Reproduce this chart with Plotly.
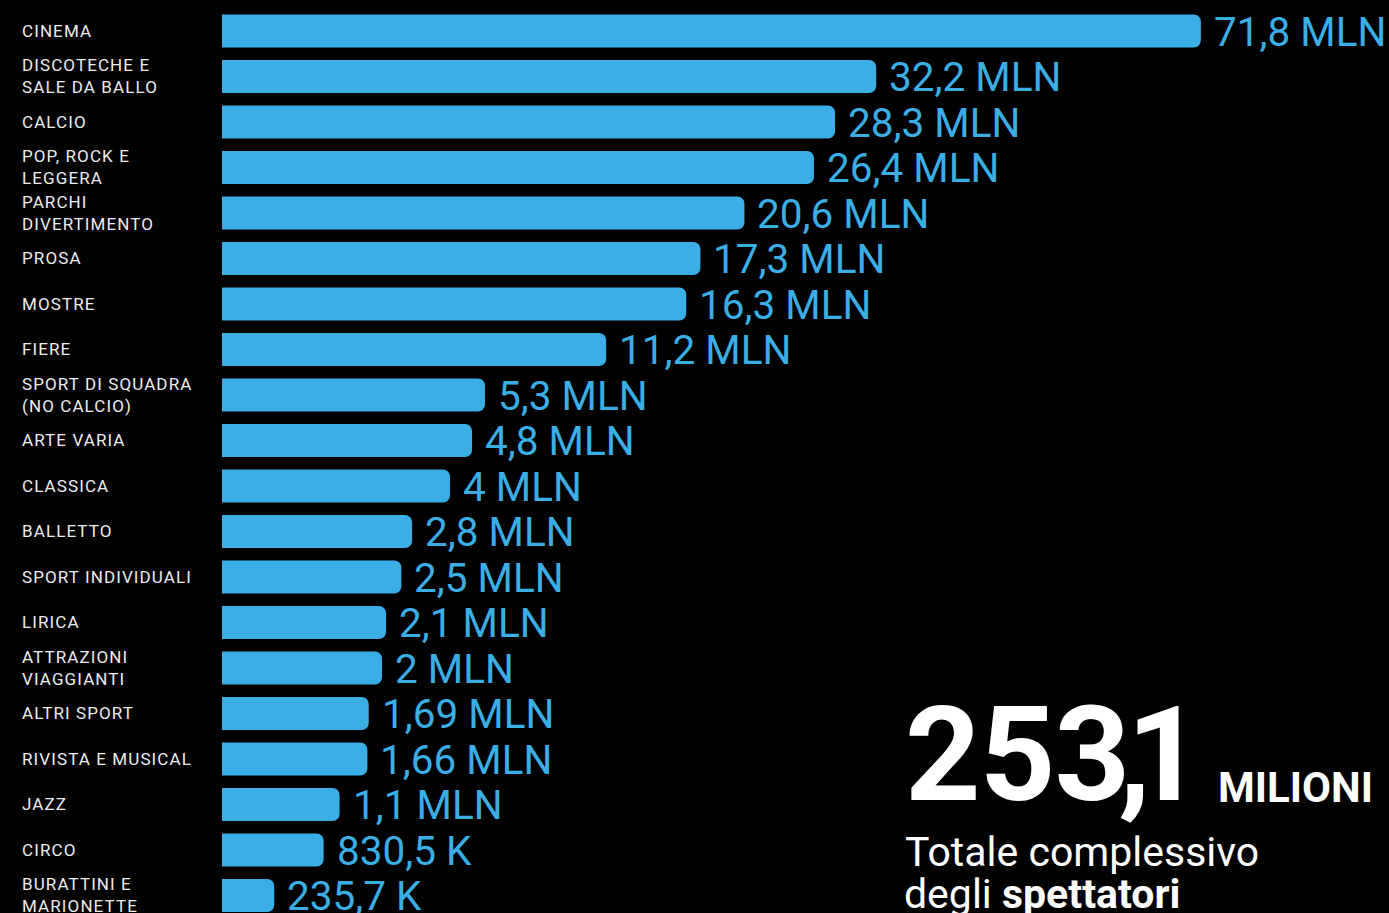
import numpy as np
import plotly.graph_objects as go

# Spettatori per genere di spettacolo (milioni)
categories = [
    "CINEMA", "DISCOTECHE E<br>SALE DA BALLO", "CALCIO", "POP, ROCK E<br>LEGGERA",
    "PARCHI<br>DIVERTIMENTO", "PROSA", "MOSTRE", "FIERE", "SPORT DI SQUADRA<br>(NO CALCIO)",
    "ARTE VARIA", "CLASSICA", "BALLETTO", "SPORT INDIVIDUALI", "LIRICA",
    "ATTRAZIONI<br>VIAGGIANTI", "ALTRI SPORT", "RIVISTA E MUSICAL", "JAZZ", "CIRCO",
    "BURATTINI E<br>MARIONETTE",
]
spettatori_mln = [
    71.8, 32.2, 28.3, 26.4, 20.6, 17.3, 16.3, 11.2, 5.3, 4.8,
    4.0, 2.8, 2.5, 2.1, 2.0, 1.69, 1.66, 1.1, 0.8305, 0.2357,
]
totale_label = "253,1"
totale_unita = "MILIONI"

BLUE = "#3AAEE5"
W, H = 1389, 913
FONT = "Roboto"
PX_PER_UNIT = 116.0   # pixels per sqrt(million)
X0 = 0.035            # small left offset of the value axis


def fmt(v):
    if v >= 1:
        return f"{v:g}".replace(".", ",") + " MLN"
    return f"{v * 1000:g}".replace(".", ",") + " K"


keys = [c.replace("<br>", " ") for c in categories]
# bar length grows with the square root of the audience
lengths = np.sqrt(np.array(spettatori_mln))

fig = go.Figure(
    go.Bar(
        x=lengths,
        y=keys,
        orientation="h",
        width=0.725,
        marker=dict(color=BLUE, line=dict(width=0)),
        hoverinfo="skip",
    )
)

annotations = []
for key, label in zip(keys, categories):
    annotations.append(dict(
        x=20 / W, xref="paper", y=key, yref="y",
        xanchor="left", yanchor="middle", align="left", showarrow=False,
        text=f"<span style='letter-spacing:1.1px'>{label}</span>",
        font=dict(family=FONT, size=17, color="#ececec"),
    ))

for key, v, L in zip(keys, spettatori_mln, lengths):
    annotations.append(dict(
        x=L, xref="x", y=key, yref="y",
        xanchor="left", yanchor="middle", showarrow=False, xshift=11, yshift=-1,
        text=fmt(v),
        font=dict(family=FONT, size=40.5, color=BLUE),
    ))

# big total, with tight tracking around the decimal comma
intero, decimale = totale_label.split(",")
totale_html = (
    "<b>"
    f"<span style='letter-spacing:-1px'>{intero[:-1]}</span>"
    f"<span style='letter-spacing:-12px'>{intero[-1]}</span>"
    "<span style='letter-spacing:-24px'>,</span>"
    f"{decimale}</b>"
)

annotations += [
    dict(x=903 / W, y=1 - 676 / H, xref="paper", yref="paper",
         xanchor="left", yanchor="top", showarrow=False,
         text=totale_html,
         font=dict(family=FONT, size=132, color="white")),
    dict(x=1216 / W, y=1 - 761 / H, xref="paper", yref="paper",
         xanchor="left", yanchor="top", showarrow=False,
         text=f"<b>{totale_unita}</b>",
         font=dict(family=FONT, size=42, color="white")),
    dict(x=903 / W, y=1 - 826 / H, xref="paper", yref="paper",
         xanchor="left", yanchor="top", showarrow=False,
         text="Totale complessivo",
         font=dict(family=FONT, size=41, color="white")),
    dict(x=902 / W, y=1 - 868 / H, xref="paper", yref="paper",
         xanchor="left", yanchor="top", showarrow=False,
         text="degli <b>spettatori</b>",
         font=dict(family=FONT, size=41, color="white")),
]

fig.update_layout(
    width=W, height=H,
    margin=dict(l=0, r=0, t=0, b=0, autoexpand=False),
    paper_bgcolor="black", plot_bgcolor="black",
    barcornerradius=7,
    showlegend=False,
    xaxis=dict(domain=[222 / W, 1], range=[X0, X0 + (W - 222) / PX_PER_UNIT],
               visible=False, fixedrange=True),
    yaxis=dict(type="category", categoryorder="array", categoryarray=keys,
               range=[19.385, -0.681], visible=False, fixedrange=True),
    annotations=annotations,
)

fig.write_html("out.html", config={"displayModeBar": False})
